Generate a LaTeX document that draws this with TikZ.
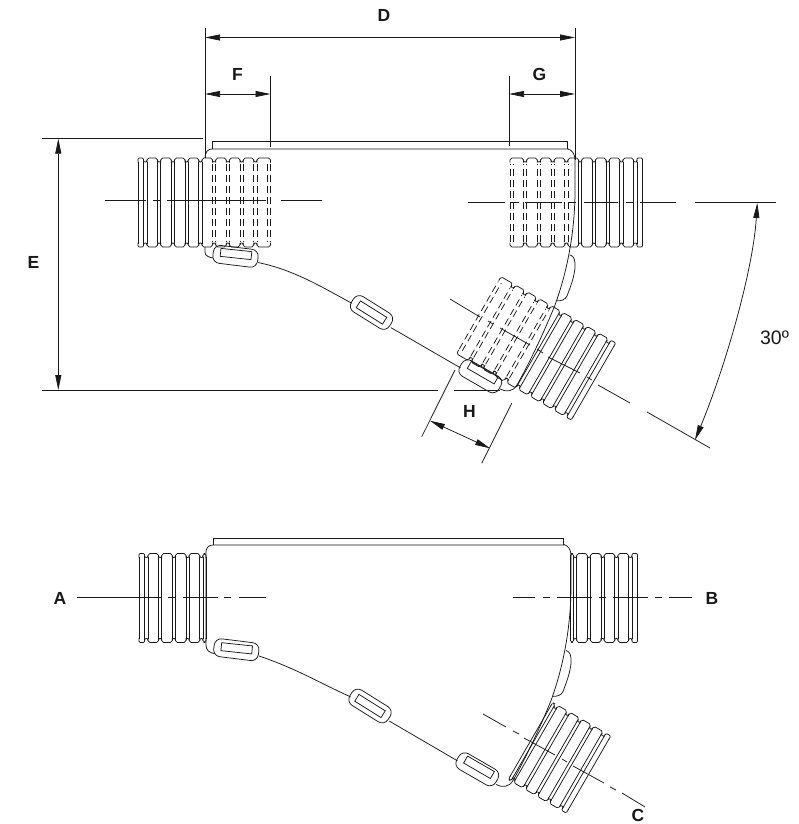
\documentclass[tikz,border=0pt]{standalone}
\usepackage{fontspec}
\setmainfont{Liberation Sans}
\usetikzlibrary{arrows.meta}
\tikzset{
  ln/.style={line width=0.75pt,draw=black!90},
  dimline/.style={line width=0.75pt,draw=black!90,{Stealth[length=15pt,width=6pt,inset=0pt]}-{Stealth[length=15pt,width=6pt,inset=0pt]}},
  hidden/.style={dash pattern=on 7pt off 4pt},
  lab/.style={font=\bfseries\fontsize{17.5}{19}\selectfont,inner sep=0pt,text=black!90},
  clipbody/.style={ln,fill=white,rectangle,rounded corners=7pt,minimum width=45pt,minimum height=18pt,inner sep=0pt},
  cliphole/.style={ln,rectangle,minimum width=31pt,minimum height=8pt,inner sep=0pt}
}
% x, y, rotation, full rib starts, last rib start, last rib width, solid lines, hidden lines
\newcommand\corrtube[8]{%
\begin{scope}[shift={(#1,#2)},rotate=#3,ln]
  \foreach \s in {-1,1}{
    \draw[ln,rounded corners=1.2pt] (0,{\s*40}) -- (0,{\s*44.5}) -- (5.5,{\s*44.5}) -- (5.5,{\s*40});
    \draw[ln] (5.5,{\s*42.5}) .. controls (5.5,{\s*39.8}) and (9,{\s*39.8}) .. (9,{\s*42.5});
    \foreach \a in {#4}{
      \draw[ln,rounded corners=1.8pt] (\a,{\s*40}) -- (\a,{\s*44.5}) -- ({\a+10.5},{\s*44.5}) -- ({\a+10.5},{\s*40});
      \draw[ln] ({\a+10.5},{\s*42.5}) .. controls ({\a+10.5},{\s*39.8}) and ({\a+13.75},{\s*39.8}) .. ({\a+13.75},{\s*42.5});
    }
    \draw[ln,rounded corners=1.8pt] (#5,{\s*40}) -- (#5,{\s*44.5}) -- ({#5+#6},{\s*44.5}) -- ({#5+#6},{\s*40});
  }
  \foreach \a in {#7}{\draw[ln] (\a,-41) -- (\a,41);}
  \foreach \a in {#8}{\draw[ln,hidden] (\a,-39) -- (\a,39);}
\end{scope}}
\newcommand\bodyright{%
  \draw[ln] (568,149) .. controls (572,150) and (575,154) .. (575,160) -- (575,190)
    .. controls (575,235) and (566,275) .. (555,305)
    .. controls (545,330) and (530,362) .. (517,385)
    .. controls (513,392) and (506,392) .. (500,389);
  \draw[ln] (570,255) .. controls (574,256) and (575.5,260) .. (575,268)
    .. controls (574,278) and (570,288) .. (567,296)
    .. controls (565,300) and (561,301) .. (557,300.7);
}
\begin{document}
\begin{tikzpicture}[x=1pt,y=-1pt]
\useasboundingbox (0,0) rectangle (799,824);
\fill[white] (0,0) rectangle (799,824);

% ---------- upper view ----------
\draw[ln] (212,149) -- (212,141.5) -- (567,141.5) -- (567,149);
\draw[ln] (205,247) -- (205,252) .. controls (205,256) and (209,258) .. (216,258);
\draw[ln] (205,158) .. controls (205,152) and (208,149) .. (212,149) -- (568,149);
\bodyright
\node[clipbody,rotate=-7] (u1) at (235.5,256.3) {};
\node[clipbody,rotate=-32] (u2) at (371.5,312.5) {};
\node[clipbody,rotate=-30] (u3) at (480.3,376.3) {};
\node[cliphole,rotate=-6] (u1h) at (236,254) {};
\node[cliphole,rotate=-32] (u2h) at (371.5,312.5) {};
\node[cliphole,rotate=-30] (u3h) at (482.7,372.7) {};
\draw[ln] ([yshift=-3.5pt]u1.east) .. controls (295,270) and (325,289) .. ([yshift=-3pt]u2.west);
\draw[ln] ([yshift=-3pt]u2.east) -- ([yshift=-3pt]u3.west);

\corrtube{138}{202.5}{0}{9,22.75,36.5,50.25,64,77.75,91.5,105.25}{119}{13.5}{0,5.5,9,19.5,22.75,33.25,36.5,47,50.25,60.75,64}{74.5,77.75,88.25,91.5,102,105.25,115.75,119,129,132.5}
\corrtube{642.5}{202.5}{180}{9,22.75,36.5,50.25,64,77.75,91.5,105.25}{119}{13.5}{0,5.5,9,19.5,22.75,33.25,36.5,47,50.25,60.75,64}{74.5,77.75,88.25,91.5,102,105.25,115.75,119,129,132.5}
\corrtube{593.5}{381.5}{150}{9,22.75,36.5,50.25,64,77.75,91.5,105.25}{119}{13.5}{0,5.5,9,19.5,22.75,33.25,36.5,47,50.25,60.75,64}{74.5,77.75,88.25,91.5,102,105.25,115.75,119,129,132.5}

% centre lines, upper view
\foreach \p/\q in {105/146,153/160,167/266,281/322}{\draw[ln] (\p,200) -- (\q,200);}
\foreach \p/\q in {468/505,511/519,525/562,568/576,584/618,626/634,640/676,695/776}{\draw[ln] (\p,202.5) -- (\q,202.5);}
\draw[ln] (450,299) -- (480,317);
\draw[ln] (488,321) -- (493,324);
\draw[ln] (500,328) -- (530,345);
\draw[ln] (537,349) -- (543,353);
\draw[ln] (548,357) -- (580,373);
\draw[ln] (587,377) -- (592,380);
\draw[ln] (598,385) -- (630,403);
\draw[ln] (647,412) -- (710,448);

% dimensions
\coordinate (dl) at (205,37.5); \coordinate (dr) at (575,37.5);
\coordinate (fl) at (205,94);   \coordinate (fr) at (270.5,94);
\coordinate (gl) at (509,94);   \coordinate (gr) at (575,94);
\coordinate (et) at (58.3,138.7); \coordinate (eb) at (58.3,390);
\draw[ln] (205,28) -- (205,158);
\draw[ln] (575,28) -- (575,160);
\draw[ln] (270.5,76) -- (270.5,147);
\draw[ln] (509,76) -- (509,146);
\draw[ln] (42,138.7) -- (203,138.7);
\draw[ln] (42,390) -- (438,390);
\draw[ln] (454,390) -- (500,390);
\draw[ln] (455,370) -- (421.7,436.7);
\draw[ln] (511.7,403.3) -- (481.7,463.3);
\coordinate (hl) at (430,420.7); \coordinate (hr) at (490,448.3);
\draw[dimline] (dl) -- (dr);
\draw[dimline] (fl) -- (fr);
\draw[dimline] (gl) -- (gr);
\draw[dimline] (et) -- (eb);
\draw[dimline] (hl) -- (hr);
\coordinate (aa) at (757.3,203); \coordinate (ab) at (695,440);
\draw[dimline] (aa) .. controls (753,270) and (726,365) .. (ab);

\node[lab] (D) at (384,15) {D};
\node[lab] (F) at (237.5,74) {F};
\node[lab] (G) at (539.5,74) {G};
\node[lab] (E) at (33.5,262) {E};
\node[lab] (H) at (469.5,411) {H};
\node[lab,font=\fontsize{19.5}{21}\selectfont] (ang) at (774.5,338) {30º};

% ---------- lower view ----------
\begin{scope}[shift={(-4,395.5)}]
\bodyright
\end{scope}
\draw[ln] (213,545) -- (213,538) -- (563,538) -- (563,545);
\draw[ln] (206,552) .. controls (206,547.5) and (209,545) .. (213,545) -- (564,545);
\draw[ln] (206,552) -- (206,645) .. controls (206,650) and (209,653) .. (216,654);
\node[clipbody,rotate=-7] (l1) at (236.3,649.7) {};
\node[clipbody,rotate=-32] (l2) at (370,706) {};
\node[clipbody,rotate=-30] (l3) at (477.3,769.3) {};
\node[cliphole,rotate=-6] (l1h) at (236.7,648.3) {};
\node[cliphole,rotate=-32] (l2h) at (370,706) {};
\node[cliphole,rotate=-30] (l3h) at (479,767.3) {};
\draw[ln] ([yshift=-3.5pt]l1.east) .. controls (295,668) and (322,684) .. ([yshift=-3pt]l2.west);
\draw[ln] ([yshift=-3pt]l2.east) -- ([yshift=-3pt]l3.west);

\corrtube{139}{598}{0}{9,22.75,36.5,50.25}{64}{3}{0,5.5,9,19.5,22.75,33.25,36.5,47,50.25,60.75,64,67}{}
\corrtube{637.5}{598}{180}{9,22.75,36.5,50.25}{64}{3}{0,5.5,9,19.5,22.75,33.25,36.5,47,50.25,60.75,64,67}{}
\corrtube{588.5}{774.5}{150}{9,22.75,36.5,50.25}{64}{3}{0,5.5,9,19.5,22.75,33.25,36.5,47,50.25,60.75,64,67}{}

\foreach \p/\q in {77/161,168/175,183/218,224/231,239/266,513/535,543/550,557/592,599/606,613/648,655/662,669/692}{\draw[ln] (\p,597.7) -- (\q,597.7);}
\draw[ln] (483,714) -- (506,727);
\draw[ln] (513,731) -- (519,734);
\draw[ln] (524,738) -- (555,755);
\draw[ln] (562,759) -- (567,762);
\draw[ln] (573,766) -- (604,783);
\draw[ln] (610,787) -- (616,790);
\draw[ln] (622,793) -- (645,807);

\node[lab] (A) at (60,598) {A};
\node[lab] (B) at (712,598) {B};
\node[lab] (C) at (638,815) {C};
\end{tikzpicture}
\end{document}
